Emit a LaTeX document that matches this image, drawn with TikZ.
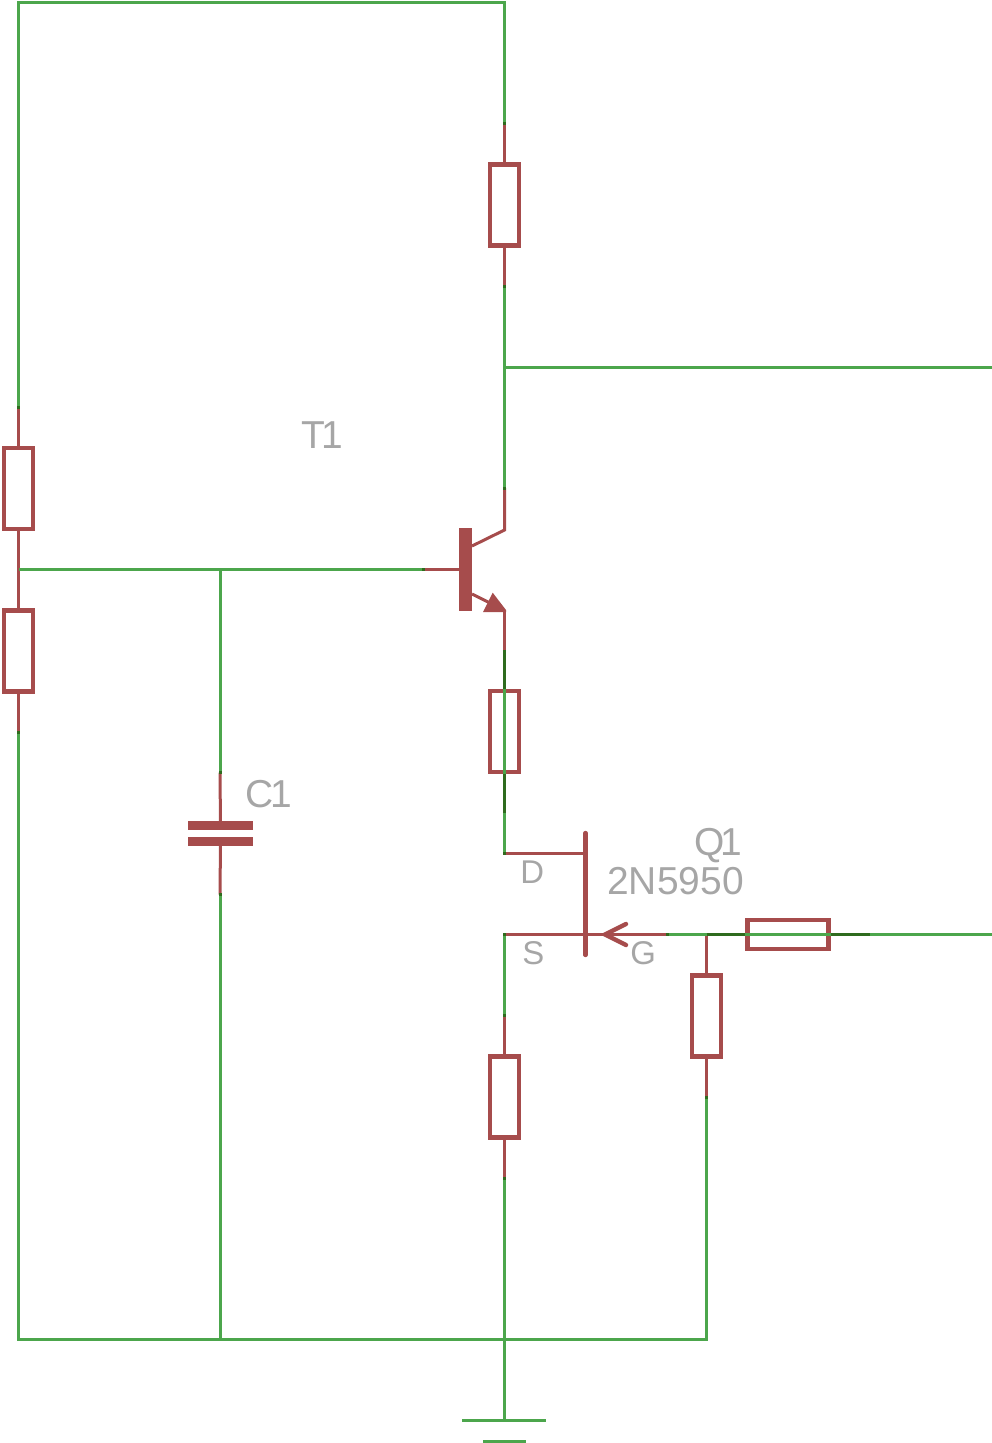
\documentclass[tikz,border=0pt]{standalone}
\usepackage{fontspec}
\setmainfont{Liberation Sans}
\usepackage{tikz}
\definecolor{wirecol}{HTML}{4CA64C}
\definecolor{partcol}{HTML}{A64C4C}
\definecolor{overcol}{HTML}{2F6B1E}
\definecolor{textcol}{HTML}{A6A6A6}
\tikzset{
  wire/.style={draw=wirecol,line width=0.075cm},
  lead/.style={draw=partcol,line width=0.075cm},
  over/.style={draw=overcol,line width=0.075cm},
  resv/.style={draw=partcol,line width=0.11cm,rectangle,inner sep=0pt,minimum width=0.725cm,minimum height=2.025cm},
  resh/.style={draw=partcol,line width=0.11cm,rectangle,inner sep=0pt,minimum width=2.025cm,minimum height=0.725cm},
  block/.style={fill=partcol,rectangle,inner sep=0pt,outer sep=0pt},
  big/.style={text=textcol,anchor=base west,inner sep=0pt,font=\fontsize{27.7}{30}\selectfont},
  small/.style={text=textcol,anchor=base west,inner sep=0pt,font=\fontsize{23.4}{26}\selectfont},
}

\begin{document}
\begin{tikzpicture}[x=0.025cm,y=-0.025cm]
  % Boundary
  \path[use as bounding box] (0,0) rectangle (992,1443);
  % Resistors
  \foreach \name/\x/\y in {rc/504.5/205,ra/18.5/488.5,rb/18.5/651,re/504.5/731.5,rs/504.5/1097,rg/706.5/1016} {
    \node[resv] (\name) at (\x,\y) {};
    \coordinate (\name p) at (\x,\y-81.5);
    \coordinate (\name q) at (\x,\y+81.5);
  }
  \node[resh] (rh) at (788,934.5) {};
  \coordinate (rhp) at (706.5,934.5);
  \coordinate (rhq) at (870,934.5);
  % Capacitor
  \node[block,minimum width=1.625cm,minimum height=0.225cm] (cu) at (220.5,825.5) {};
  \node[block,minimum width=1.625cm,minimum height=0.225cm] (cl) at (220.5,841.5) {};
  \coordinate (cup) at (220,772.5);
  \coordinate (clq) at (220,894.5);
  % Transistor T1
  \node[block,minimum width=0.325cm,minimum height=2.075cm] (bar) at (465.5,569.5) {};
  \coordinate (base) at (423,569.5);
  \coordinate (coll) at (504.5,488);
  \coordinate (emit) at (504.5,650);
  \coordinate (ck) at (504.5,530);
  \coordinate (ek) at (504.5,610);
  \draw[lead] (base) -- (bar.west |- base);
  \draw[lead] (coll) -- (ck) -- (472,546);
  \draw[lead] (472,594) -- (490,603);
  \draw[lead] (ek) -- (emit);
  \fill[partcol] (483,612) -- (492.7,592.7) -- (506,610) -- (506,612) -- cycle;
  % Transistor Q1
  \coordinate (drain) at (504.5,853.5);
  \coordinate (source) at (504.5,934.5);
  \coordinate (gate) at (667,934.5);
  \draw[draw=partcol,line width=0.11cm,line cap=round] (585.5,833) -- (585.5,955);
  \draw[lead] (drain) -- (585.5,853.5);
  \draw[lead] (source) -- (gate);
  \draw[draw=partcol,line width=0.11cm,line cap=round,line join=miter] (626,924) -- (605,934.5) -- (626,945);
  % Leads
  \foreach \name in {rc,rs} {
    \draw[lead] (\name p) -- (\name);
    \draw[lead] (\name) -- (\name q);
  }
  \draw[lead] (rap) -- (ra);
  \draw[lead] (ra) -- (rb);
  \draw[lead] (rb) -- (rbq);
  \draw[lead] (rg) -- (rgq);
  \draw[lead] (rhp |- gate) -- (rg);
  \draw[lead] (cup) -- (cu);
  \draw[lead] (cl) -- (clq);
  % Wires
  \coordinate (tl) at (18.5,2);
  \coordinate (tr) at (504.5,2);
  \coordinate (bl) at (18.5,1339.5);
  \coordinate (bc) at (220,1339.5);
  \coordinate (bs) at (504.5,1339.5);
  \coordinate (br) at (706.5,1339.5);
  \coordinate (out) at (992,367.5);
  \coordinate (in) at (992,934.5);
  \coordinate (mid) at (18.5,569.5);
  \coordinate (gnd) at (504.5,1420.5);
  \coordinate (gl) at (462,1420.5);
  \coordinate (gr) at (546,1420.5);
  \coordinate (hl) at (483,1441.5);
  \coordinate (hr) at (526,1441.5);
  \draw[wire] (rap) -- (tl) -- (tr) -- (rcp);
  \draw[wire] (rcq) -- (coll);
  \draw[wire] (504.5,367.5) -- (out);
  \draw[wire] (mid) -- (base);
  \draw[wire] (220,569.5) -- (cup);
  \draw[wire] (clq) -- (bc);
  \draw[wire] (rbq) -- (bl) -- (br) -- (rgq);
  \draw[wire] (emit) -- (drain);
  \draw[wire] (source) -- (rsp);
  \draw[wire] (rsq) -- (gnd);
  \draw[wire] (gate) -- (in);
  \draw[wire] (gl) -- (gr);
  \draw[wire] (hl) -- (hr);
  % Overlaps
  \draw[over] (emit) -- (re.north);
  \draw[over] (re.south) -- (req);
  \draw[over] (rhp) -- (rh.west);
  \draw[over] (rh.east) -- (rhq);
  \foreach \p in {rcp,rcq,rap,rbq,cup,clq,rsp,rsq,rgq,base,coll,gate,drain,source} {
    \fill[overcol] (\p) ++(-1.5,-1.5) rectangle ++(3,3);
  }
  % Labels
  \node[big] (t1) at (301,448) {T\kern-2.8pt 1};
  \node[big] (c1) at (245,807) {C\kern-2pt 1};
  \node[big] (q1) at (694,855) {Q\kern-2.8pt 1};
  \node[big] (type) at (607,894) {2N5950};
  \node[small] (pd) at (520,883) {D};
  \node[small] (ps) at (522,964) {S};
  \node[small] (pg) at (630,964) {G};
\end{tikzpicture}
\end{document}
